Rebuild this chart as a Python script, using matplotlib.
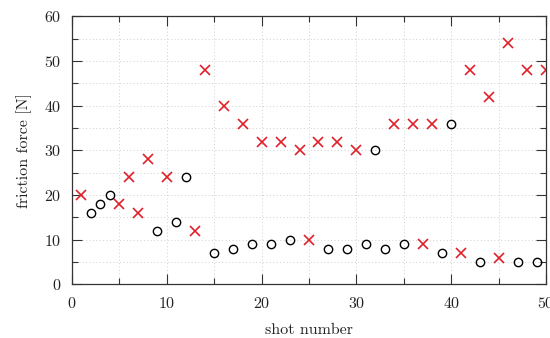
import matplotlib
matplotlib.use("Agg")
import matplotlib.pyplot as plt
from matplotlib.ticker import MultipleLocator

plt.rcParams['font.family'] = ['cmr10', 'DejaVu Serif']
plt.rcParams['axes.formatter.use_mathtext'] = True
plt.rcParams['mathtext.fontset'] = 'cm'

cross_x = [1, 5, 6, 7, 8, 10, 13, 14, 16, 18, 20, 22, 24, 25, 26, 28, 30, 34, 36, 37, 38, 41, 42, 44, 45, 46, 48, 50]
cross_y = [20, 18, 24, 16, 28, 24, 12, 48, 40, 36, 32, 32, 30, 10, 32, 32, 30, 36, 36, 9, 36, 7, 48, 42, 6, 54, 48, 48]
circ_x = [2, 3, 4, 9, 11, 12, 15, 17, 19, 21, 23, 27, 29, 31, 32, 33, 35, 39, 40, 43, 47, 49]
circ_y = [16, 18, 20, 12, 14, 24, 7, 8, 9, 9, 10, 8, 8, 9, 30, 8, 9, 7, 36, 5, 5, 5]

fig = plt.figure(figsize=(5.5, 3.38), dpi=100)
ax = fig.add_axes([0.1309, 0.1583, 0.8618, 0.7929])

ax.plot(cross_x, cross_y, linestyle='none', marker='x', color='#e0202a', markersize=6.5, markeredgewidth=1.2)
ax.plot(circ_x, circ_y, linestyle='none', marker='o', markerfacecolor='none', markeredgecolor='black', markersize=6, markeredgewidth=1.0)

ax.set_xlim(0, 50)
ax.set_ylim(0, 60)
ax.xaxis.set_major_locator(MultipleLocator(10))
ax.xaxis.set_minor_locator(MultipleLocator(5))
ax.yaxis.set_major_locator(MultipleLocator(10))
ax.yaxis.set_minor_locator(MultipleLocator(5))
ax.tick_params(which='both', direction='in', top=True, right=True, labelsize=11.5, width=0.8, color='#333333', labelcolor='#222222')
ax.tick_params(which='major', length=7, pad=8)
ax.tick_params(which='minor', length=4)
ax.grid(True, which='both', linestyle=(0, (1, 2.5)), color='#cfcfcf', linewidth=0.7)
for s in ax.spines.values():
    s.set_linewidth(0.9)
    s.set_color('#333333')

ax.set_xlabel('shot number', fontsize=11.5, labelpad=9, color='#222222')
ax.set_ylabel('friction force [N]', fontsize=11.5, labelpad=8, color='#222222')

fig.savefig('out.png', dpi=100)
